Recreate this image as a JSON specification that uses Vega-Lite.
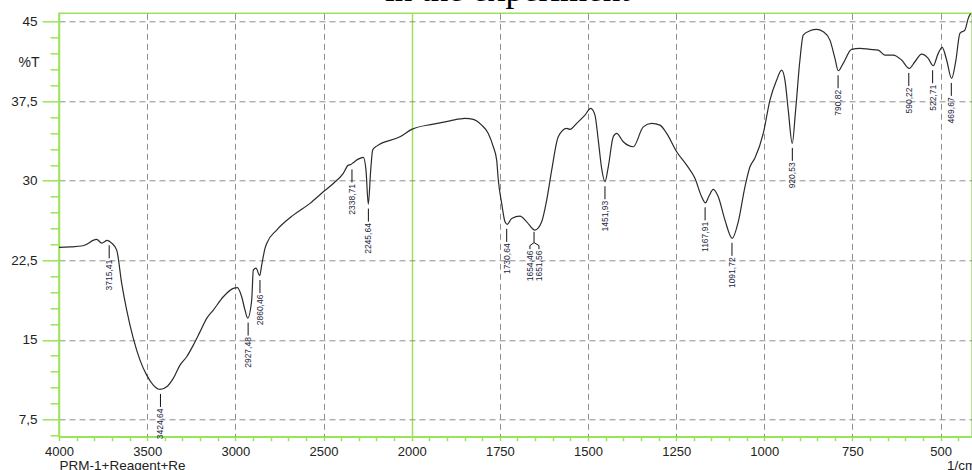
{
  "$schema": "https://vega.github.io/schema/vega-lite/v6.json",
  "width": 913,
  "height": 423.4,
  "autosize": {"type": "none"},
  "padding": {"left": 59, "top": 13.3, "right": 0, "bottom": 33.3},
  "background": "white",
  "title": {
    "text": "in the experiment",
    "font": "Liberation Serif",
    "fontSize": 35,
    "fontWeight": "normal",
    "color": "#000000",
    "anchor": "middle",
    "frame": "group",
    "offset": 5.5,
    "dx": -8
  },
  "config": {
    "font": "Liberation Sans",
    "view": {"stroke": "#9be45a", "strokeWidth": 1.5}
  },
  "datasets": {
    "spectrum": [
      {"wn": 4000, "t": 23.72}, {"wn": 3937.6, "t": 23.76}, {"wn": 3863.9, "t": 23.87}, {"wn": 3786.2, "t": 24.47},
      {"wn": 3757.9, "t": 24.12}, {"wn": 3726.1, "t": 24.38}, {"wn": 3701.2, "t": 24.12}, {"wn": 3672.8, "t": 23.46},
      {"wn": 3644.5, "t": 20.32}, {"wn": 3616.1, "t": 17.8}, {"wn": 3578.7, "t": 15.13}, {"wn": 3540.7, "t": 13.08},
      {"wn": 3502.7, "t": 11.67}, {"wn": 3465.3, "t": 10.73}, {"wn": 3427.3, "t": 10.32}, {"wn": 3389.3, "t": 10.57},
      {"wn": 3351.9, "t": 11.36}, {"wn": 3313.9, "t": 12.61}, {"wn": 3275.9, "t": 13.4}, {"wn": 3238.4, "t": 14.5},
      {"wn": 3200.5, "t": 15.75}, {"wn": 3162.5, "t": 17.02}, {"wn": 3125, "t": 17.8}, {"wn": 3068.3, "t": 19.06},
      {"wn": 3011.6, "t": 19.85}, {"wn": 2988.9, "t": 19.92}, {"wn": 2964, "t": 19.06}, {"wn": 2945.3, "t": 17.8},
      {"wn": 2930, "t": 17.05}, {"wn": 2907.3, "t": 18.75}, {"wn": 2898.2, "t": 21.58}, {"wn": 2883, "t": 21.76},
      {"wn": 2861.9, "t": 21.06}, {"wn": 2850.6, "t": 22.05}, {"wn": 2831.9, "t": 23.62}, {"wn": 2822.2, "t": 24.09},
      {"wn": 2765.5, "t": 25.35}, {"wn": 2671.4, "t": 26.76}, {"wn": 2576.7, "t": 27.87}, {"wn": 2501.3, "t": 28.96},
      {"wn": 2444.6, "t": 29.75}, {"wn": 2387.9, "t": 30.7}, {"wn": 2359.5, "t": 31.48}, {"wn": 2347, "t": 31.53},
      {"wn": 2330, "t": 31.72}, {"wn": 2311.9, "t": 31.95}, {"wn": 2274.4, "t": 32.21}, {"wn": 2259.2, "t": 31.01},
      {"wn": 2246.1, "t": 27.8}, {"wn": 2232.5, "t": 31.01}, {"wn": 2221.2, "t": 32.9}, {"wn": 2198.5, "t": 33.27},
      {"wn": 2066.4, "t": 34.15}, {"wn": 2000, "t": 34.85}, {"wn": 1938.8, "t": 35.35}, {"wn": 1891.4, "t": 35.66},
      {"wn": 1848.9, "t": 35.89}, {"wn": 1825.3, "t": 35.79}, {"wn": 1801.5, "t": 35.25}, {"wn": 1782.8, "t": 34.47},
      {"wn": 1768.6, "t": 33.21}, {"wn": 1759, "t": 31.95}, {"wn": 1754.4, "t": 30.07}, {"wn": 1744.8, "t": 27.87},
      {"wn": 1735.4, "t": 26.13}, {"wn": 1728.9, "t": 25.89}, {"wn": 1716.4, "t": 26.45}, {"wn": 1692.9, "t": 26.67},
      {"wn": 1673.9, "t": 26.13}, {"wn": 1650.4, "t": 25.35}, {"wn": 1631.4, "t": 26.13}, {"wn": 1617.2, "t": 28.18},
      {"wn": 1603, "t": 31.01}, {"wn": 1584.3, "t": 34.15}, {"wn": 1560.5, "t": 34.94}, {"wn": 1551.1, "t": 34.85},
      {"wn": 1532.1, "t": 35.42}, {"wn": 1508.6, "t": 36.2}, {"wn": 1492.4, "t": 36.83}, {"wn": 1480.3, "t": 36.2},
      {"wn": 1470.9, "t": 33.84}, {"wn": 1461.3, "t": 31.17}, {"wn": 1451.9, "t": 29.91}, {"wn": 1442.5, "t": 31.32},
      {"wn": 1428.4, "t": 34.15}, {"wn": 1418.7, "t": 34.47}, {"wn": 1400, "t": 33.68}, {"wn": 1371.7, "t": 33.21},
      {"wn": 1343.3, "t": 35.09}, {"wn": 1319.5, "t": 35.42}, {"wn": 1295.9, "t": 35.25}, {"wn": 1276.9, "t": 34.47},
      {"wn": 1248.6, "t": 32.74}, {"wn": 1220.2, "t": 31.48}, {"wn": 1196.7, "t": 30.23}, {"wn": 1177.7, "t": 28.49},
      {"wn": 1166.9, "t": 27.92}, {"wn": 1157, "t": 28.56}, {"wn": 1144.8, "t": 29.19}, {"wn": 1130.6, "t": 28.49},
      {"wn": 1111.6, "t": 26.29}, {"wn": 1090.9, "t": 24.57}, {"wn": 1073.9, "t": 26.13}, {"wn": 1054.9, "t": 29.43},
      {"wn": 1040.7, "t": 31.32}, {"wn": 1026.6, "t": 32.14}, {"wn": 1003, "t": 34.47}, {"wn": 984, "t": 37.61},
      {"wn": 965, "t": 39.5}, {"wn": 950.9, "t": 40.44}, {"wn": 941.5, "t": 39.5}, {"wn": 932.1, "t": 36.67},
      {"wn": 920.8, "t": 33.53}, {"wn": 911.2, "t": 36.67}, {"wn": 899, "t": 41.39}, {"wn": 889.6, "t": 43.75},
      {"wn": 870.6, "t": 44.15}, {"wn": 851.6, "t": 44.28}, {"wn": 832.9, "t": 44.06}, {"wn": 813.9, "t": 43.27},
      {"wn": 799.7, "t": 41.55}, {"wn": 790.4, "t": 40.38}, {"wn": 776.2, "t": 41.08}, {"wn": 752.4, "t": 42.4},
      {"wn": 728.8, "t": 42.49}, {"wn": 700.5, "t": 42.4}, {"wn": 676.9, "t": 42.33}, {"wn": 657.9, "t": 41.86},
      {"wn": 634.4, "t": 41.86}, {"wn": 610.6, "t": 41.39}, {"wn": 589.1, "t": 40.6}, {"wn": 572.9, "t": 41.23},
      {"wn": 553.9, "t": 41.95}, {"wn": 535.2, "t": 41.55}, {"wn": 521, "t": 40.85}, {"wn": 506.8, "t": 42.02},
      {"wn": 495.5, "t": 42.58}, {"wn": 483, "t": 41.39}, {"wn": 468.8, "t": 39.66}, {"wn": 456.6, "t": 41.39},
      {"wn": 445.3, "t": 43.91}, {"wn": 431.1, "t": 44.22}, {"wn": 421.7, "t": 45.32}, {"wn": 414.9, "t": 45.79}
    ],
    "peaks": [
      {"wn": 3715.41, "t": 24.34, "label": "3715,41"},
      {"wn": 3424.64, "t": 10.32, "label": "3424,64"},
      {"wn": 2927.48, "t": 17.05, "label": "2927,48"},
      {"wn": 2860.46, "t": 21.06, "label": "2860,46"},
      {"wn": 2338.71, "t": 31.5, "label": "2338,71"},
      {"wn": 2245.64, "t": 27.8, "label": "2245,64"},
      {"wn": 1730.64, "t": 25.89, "label": "1730,64"},
      {"wn": 1654.46, "t": 25.35, "label": "1654,46"},
      {"wn": 1651.56, "t": 25.35, "label": "1651,56"},
      {"wn": 1451.93, "t": 29.91, "label": "1451,93"},
      {"wn": 1167.91, "t": 27.92, "label": "1167,91"},
      {"wn": 1091.72, "t": 24.57, "label": "1091,72"},
      {"wn": 920.53, "t": 33.53, "label": "920,53"},
      {"wn": 790.82, "t": 40.38, "label": "790,82"},
      {"wn": 590.22, "t": 40.6, "label": "590,22"},
      {"wn": 522.71, "t": 40.85, "label": "522,71"},
      {"wn": 469.67, "t": 39.66, "label": "469,67"}
    ]
  },
  "layer": [
    {
      "encoding": {
        "x": {
          "field": "wn",
          "type": "quantitative",
          "scale": {"type": "linear", "domain": [4000, 2000, 411], "range": [0, 352.7, 913], "nice": false, "zero": false},
          "axis": {
            "values": [4000, 3900, 3800, 3700, 3600, 3500, 3400, 3300, 3200, 3100, 3000, 2900, 2800, 2700, 2600, 2500, 2400, 2300, 2200, 2100, 2000, 1950, 1900, 1850, 1800, 1750, 1700, 1650, 1600, 1550, 1500, 1450, 1400, 1350, 1300, 1250, 1200, 1150, 1100, 1050, 1000, 950, 900, 850, 800, 750, 700, 650, 600, 550, 500, 450],
            "labelExpr": "((datum.value >= 2000 && datum.value % 500 == 0) || (datum.value < 2000 && datum.value % 250 == 0)) ? format(datum.value, 'd') : ''",
            "labelFontSize": 13,
            "labelColor": "#222222",
            "labelPadding": 5,
            "labelFlush": false,
            "labelOverlap": false,
            "labelBound": false,
            "tickSize": 4,
            "tickColor": "#9be45a",
            "tickWidth": 1.5,
            "domainColor": "#9be45a",
            "domainWidth": 1.5,
            "grid": true,
            "gridColor": {"condition": {"test": "datum.value == 2000", "value": "#9be45a"}, "value": "#8e8e8e"},
            "gridDash": {"condition": {"test": "datum.value == 2000", "value": []}, "value": [6, 4]},
            "gridWidth": {"condition": {"test": "datum.value == 2000", "value": 1.5}, "value": 1},
            "gridOpacity": {"condition": {"test": "(datum.value >= 2000 && datum.value % 500 == 0) || (datum.value < 2000 && datum.value % 250 == 0)", "value": 1}, "value": 0},
            "title": "PRM-1+Reagent+Re",
            "titleFontSize": 13.5,
            "titleFontWeight": "normal",
            "titleColor": "#222222",
            "titleX": 0,
            "titleY": 33.3,
            "titleAlign": "left",
            "titleBaseline": "alphabetic"
          }
        },
        "y": {
          "field": "t",
          "type": "quantitative",
          "scale": {"domain": [5.86, 45.8], "nice": false, "zero": false},
          "axis": {
            "values": [6, 7.5, 9, 10.5, 12, 13.5, 15, 16.5, 18, 19.5, 21, 22.5, 24, 25.5, 27, 28.5, 30, 31.5, 33, 34.5, 36, 37.5, 39, 40.5, 42, 43.5, 45],
            "labelExpr": "abs(datum.value / 7.5 - round(datum.value / 7.5)) < 0.001 ? replace(format(datum.value, '~g'), '.', ',') : ''",
            "labelFontSize": 13.5,
            "labelColor": "#222222",
            "labelPadding": 5,
            "labelOverlap": false,
            "labelBound": false,
            "labelFlush": false,
            "tickSize": {"condition": {"test": "abs(datum.value / 7.5 - round(datum.value / 7.5)) < 0.001", "value": 17}, "value": 9},
            "tickColor": "#9be45a",
            "tickWidth": 1.5,
            "domainColor": "#9be45a",
            "domainWidth": 1.5,
            "grid": true,
            "gridColor": "#8e8e8e",
            "gridDash": [6, 4],
            "gridWidth": 1,
            "gridOpacity": {"condition": {"test": "abs(datum.value / 7.5 - round(datum.value / 7.5)) < 0.001", "value": 1}, "value": 0},
            "title": "%T",
            "titleFontSize": 14,
            "titleFontWeight": "normal",
            "titleColor": "#222222",
            "titleAngle": 0,
            "titleX": -20,
            "titleY": 48.7,
            "titleAlign": "right",
            "titleBaseline": "middle"
          }
        }
      },
      "layer": [
        {
          "data": {"name": "spectrum"},
          "mark": {"type": "line", "color": "#2b2b2b", "strokeWidth": 1.2, "interpolate": "monotone", "clip": true},
          "encoding": {"order": {"field": "wn", "sort": "descending"}}
        },
        {
          "data": {"name": "peaks"},
          "transform": [{"filter": "datum.label != '1654,46' && datum.label != '1651,56'"}],
          "mark": {"type": "rule", "color": "#111111", "strokeWidth": 1, "yOffset": 4.5, "y2Offset": 17.5},
          "encoding": {"y2": {"field": "t"}}
        },
        {
          "data": {"name": "peaks"},
          "transform": [{"filter": "datum.label != '1654,46' && datum.label != '1651,56'"}],
          "mark": {"type": "text", "angle": 270, "align": "right", "baseline": "middle", "yOffset": 19, "fontSize": 8.5, "color": "#1c2640"},
          "encoding": {"text": {"field": "label"}}
        },
        {
          "data": {"name": "peaks"},
          "transform": [{"filter": "datum.label == '1654,46'"}],
          "mark": {"type": "rule", "color": "#111111", "strokeWidth": 1, "xOffset": 0.5, "yOffset": 1.7, "y2Offset": 12.5},
          "encoding": {"y2": {"field": "t"}}
        },
        {
          "data": {"name": "peaks"},
          "transform": [{"filter": "datum.label == '1654,46'"}],
          "mark": {"type": "rule", "color": "#111111", "strokeWidth": 1, "xOffset": 0.5, "x2Offset": -3.6, "yOffset": 12.5, "y2Offset": 15.5},
          "encoding": {"x2": {"field": "wn"}, "y2": {"field": "t"}}
        },
        {
          "data": {"name": "peaks"},
          "transform": [{"filter": "datum.label == '1654,46'"}],
          "mark": {"type": "rule", "color": "#111111", "strokeWidth": 1, "xOffset": -3.6, "yOffset": 15.5, "y2Offset": 19},
          "encoding": {"y2": {"field": "t"}}
        },
        {
          "data": {"name": "peaks"},
          "transform": [{"filter": "datum.label == '1651,56'"}],
          "mark": {"type": "rule", "color": "#111111", "strokeWidth": 1, "xOffset": -0.5, "x2Offset": 4.4, "yOffset": 12.5, "y2Offset": 15.5},
          "encoding": {"x2": {"field": "wn"}, "y2": {"field": "t"}}
        },
        {
          "data": {"name": "peaks"},
          "transform": [{"filter": "datum.label == '1651,56'"}],
          "mark": {"type": "rule", "color": "#111111", "strokeWidth": 1, "xOffset": 4.4, "yOffset": 15.5, "y2Offset": 19},
          "encoding": {"y2": {"field": "t"}}
        },
        {
          "data": {"name": "peaks"},
          "transform": [{"filter": "datum.label == '1654,46'"}],
          "mark": {"type": "text", "angle": 270, "align": "right", "baseline": "middle", "xOffset": -3.6, "yOffset": 20.5, "fontSize": 8.5, "color": "#1c2640"},
          "encoding": {"text": {"field": "label"}}
        },
        {
          "data": {"name": "peaks"},
          "transform": [{"filter": "datum.label == '1651,56'"}],
          "mark": {"type": "text", "angle": 270, "align": "right", "baseline": "middle", "xOffset": 4.4, "yOffset": 20.5, "fontSize": 8.5, "color": "#1c2640"},
          "encoding": {"text": {"field": "label"}}
        }
      ]
    },
    {
      "data": {"values": [{"unit": "1/cm"}]},
      "mark": {"type": "text", "align": "left", "baseline": "alphabetic", "fontSize": 13.5, "color": "#222222"},
      "encoding": {
        "x": {
          "datum": 482,
          "type": "quantitative",
          "scale": {"type": "linear", "domain": [4000, 2000, 411], "range": [0, 352.7, 913], "nice": false, "zero": false},
          "axis": {
            "values": [4000, 3900, 3800, 3700, 3600, 3500, 3400, 3300, 3200, 3100, 3000, 2900, 2800, 2700, 2600, 2500, 2400, 2300, 2200, 2100, 2000, 1950, 1900, 1850, 1800, 1750, 1700, 1650, 1600, 1550, 1500, 1450, 1400, 1350, 1300, 1250, 1200, 1150, 1100, 1050, 1000, 950, 900, 850, 800, 750, 700, 650, 600, 550, 500, 450],
            "labelExpr": "((datum.value >= 2000 && datum.value % 500 == 0) || (datum.value < 2000 && datum.value % 250 == 0)) ? format(datum.value, 'd') : ''",
            "labelFontSize": 13,
            "labelColor": "#222222",
            "labelPadding": 5,
            "labelFlush": false,
            "labelOverlap": false,
            "labelBound": false,
            "tickSize": 4,
            "tickColor": "#9be45a",
            "tickWidth": 1.5,
            "domainColor": "#9be45a",
            "domainWidth": 1.5,
            "grid": true,
            "gridColor": {"condition": {"test": "datum.value == 2000", "value": "#9be45a"}, "value": "#8e8e8e"},
            "gridDash": {"condition": {"test": "datum.value == 2000", "value": []}, "value": [6, 4]},
            "gridWidth": {"condition": {"test": "datum.value == 2000", "value": 1.5}, "value": 1},
            "gridOpacity": {"condition": {"test": "(datum.value >= 2000 && datum.value % 500 == 0) || (datum.value < 2000 && datum.value % 250 == 0)", "value": 1}, "value": 0},
            "title": "PRM-1+Reagent+Re",
            "titleFontSize": 13.5,
            "titleFontWeight": "normal",
            "titleColor": "#222222",
            "titleX": 0,
            "titleY": 33.3,
            "titleAlign": "left",
            "titleBaseline": "alphabetic"
          }
        },
        "y": {
          "datum": 2.71,
          "type": "quantitative",
          "scale": {"domain": [5.86, 45.8], "nice": false, "zero": false},
          "axis": {
            "values": [6, 7.5, 9, 10.5, 12, 13.5, 15, 16.5, 18, 19.5, 21, 22.5, 24, 25.5, 27, 28.5, 30, 31.5, 33, 34.5, 36, 37.5, 39, 40.5, 42, 43.5, 45],
            "labelExpr": "abs(datum.value / 7.5 - round(datum.value / 7.5)) < 0.001 ? replace(format(datum.value, '~g'), '.', ',') : ''",
            "labelFontSize": 13.5,
            "labelColor": "#222222",
            "labelPadding": 5,
            "labelOverlap": false,
            "labelBound": false,
            "labelFlush": false,
            "tickSize": {"condition": {"test": "abs(datum.value / 7.5 - round(datum.value / 7.5)) < 0.001", "value": 17}, "value": 9},
            "tickColor": "#9be45a",
            "tickWidth": 1.5,
            "domainColor": "#9be45a",
            "domainWidth": 1.5,
            "grid": true,
            "gridColor": "#8e8e8e",
            "gridDash": [6, 4],
            "gridWidth": 1,
            "gridOpacity": {"condition": {"test": "abs(datum.value / 7.5 - round(datum.value / 7.5)) < 0.001", "value": 1}, "value": 0},
            "title": "%T",
            "titleFontSize": 14,
            "titleFontWeight": "normal",
            "titleColor": "#222222",
            "titleAngle": 0,
            "titleX": -20,
            "titleY": 48.7,
            "titleAlign": "right",
            "titleBaseline": "middle"
          }
        },
        "text": {"field": "unit"}
      }
    }
  ]
}
